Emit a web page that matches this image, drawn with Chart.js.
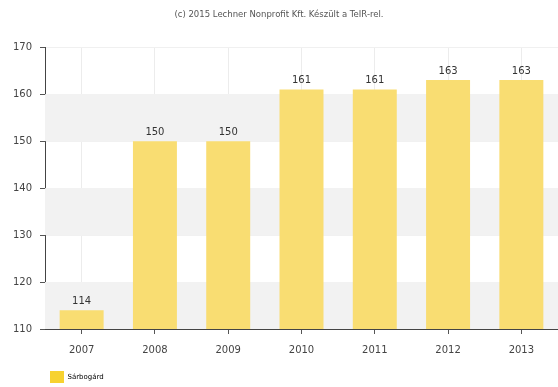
<!DOCTYPE html>
<html>
<head>
<meta charset="utf-8">
<script src="https://cdn.jsdelivr.net/npm/chart.js@4/dist/chart.umd.min.js"></script>
<style>
  html, body { margin: 0; padding: 0; background: #fff; }
  #wrap { width: 558px; height: 387px; }
</style>
</head>
<body>
<div id="wrap"><canvas id="chart"></canvas></div>
<script>
const years = ["2007", "2008", "2009", "2010", "2011", "2012", "2013"];
const values = [114, 150, 150, 161, 161, 163, 163];
const seriesName = "Sárbogárd";
const yTicks = [110, 120, 130, 140, 150, 160, 170];
const titleText = "(c) 2015 Lechner Nonprofit Kft. Készült a TeIR-rel.";

// alternating grey bands behind the bars
const bandPlugin = {
  id: "bands",
  beforeDatasetsDraw(chart) {
    const { ctx, chartArea, scales } = chart;
    ctx.save();
    ctx.fillStyle = "#f2f2f2";
    for (let v = 110; v < 170; v += 20) {
      const y1 = scales.y.getPixelForValue(v);
      const y2 = scales.y.getPixelForValue(v + 10);
      ctx.fillRect(chartArea.left, y2, chartArea.right - chartArea.left, y1 - y2);
    }
    ctx.restore();
  }
};

// value labels above bars
const labelPlugin = {
  id: "valueLabels",
  afterDatasetsDraw(chart) {
    const { ctx } = chart;
    const meta = chart.getDatasetMeta(0);
    ctx.save();
    ctx.font = "10px 'DejaVu Sans'";
    ctx.fillStyle = "#333";
    ctx.textAlign = "center";
    ctx.textBaseline = "bottom";
    meta.data.forEach((bar, i) => {
      ctx.fillText(values[i], bar.x, bar.y - 4);
    });
    ctx.restore();
  }
};

// push the legend in line with the y axis and a bit lower
const legendShift = {
  id: "legendShift",
  afterLayout(chart) {
    chart.legend.left += 44;
    chart.legend.top += 6;
  }
};

new Chart(document.getElementById("chart"), {
  type: "bar",
  data: {
    labels: years,
    datasets: [{
      label: seriesName,
      data: values,
      backgroundColor: "#f9dd72",
      borderWidth: 0,
      barPercentage: 0.6,
      categoryPercentage: 1
    }]
  },
  options: {
    responsive: true,
    maintainAspectRatio: false,
    animation: false,
    plugins: {
      title: {
        display: true,
        text: titleText,
        font: { family: "DejaVu Sans", size: 8.5, weight: "normal" },
        color: "#555",
        padding: { top: 10, bottom: 27 }
      },
      legend: {
        position: "bottom",
        align: "start",
        labels: {
          boxWidth: 14,
          boxHeight: 12,
          color: "#555",
          font: { family: "DejaVu Sans", size: 7 },
          padding: 6,
          generateLabels: () => [{
            text: seriesName,
            fillStyle: "#f7d230",
            strokeStyle: "#f7d230",
            lineWidth: 0,
            hidden: false
          }]
        }
      },
      tooltip: { enabled: false }
    },
    scales: {
      x: {
        afterFit(scale) { scale.height -= 7; },
        grid: {
          offset: false,
          color: "#ececec",
          tickColor: "#555",
          tickLength: 5
        },
        border: { color: "#444", width: 1 },
        ticks: {
          color: "#444",
          font: { family: "DejaVu Sans", size: 10 },
          padding: 10
        }
      },
      y: {
        min: 110,
        max: 170,
        afterFit(scale) { scale.width = 45; },
        afterBuildTicks(scale) { scale.ticks = yTicks.map(v => ({ value: v })); },
        grid: {
          color: "#f0f0f0",
          tickColor: "#555",
          tickLength: 5
        },
        border: { color: "#444", width: 1 },
        ticks: {
          color: "#444",
          font: { family: "DejaVu Sans", size: 10 },
          padding: 8
        }
      }
    }
  },
  plugins: [bandPlugin, labelPlugin, legendShift]
});
</script>
</body>
</html>
